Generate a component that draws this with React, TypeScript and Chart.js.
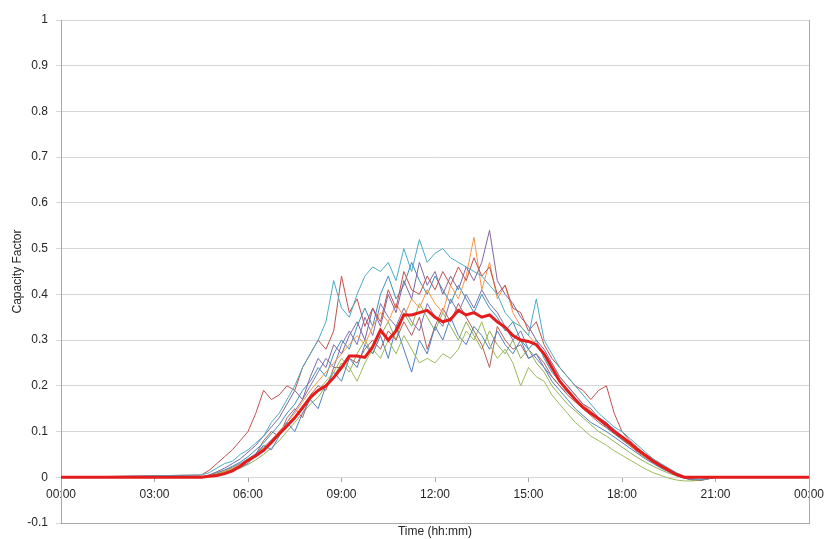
import React, { useEffect, useRef } from "react";
import { Chart, registerables } from "chart.js";

Chart.register(...registerables);

// time of day in minutes after midnight
const timeMinutes = [0, 270, 285, 300, 315, 330, 345, 360, 375, 390, 405, 420, 435, 450, 465, 480, 495, 510, 525, 540, 555, 570, 585, 600, 615, 630, 645, 660, 675, 690, 705, 720, 735, 750, 765, 780, 795, 810, 825, 840, 855, 870, 885, 900, 915, 930, 945, 960, 975, 990, 1005, 1020, 1035, 1050, 1065, 1080, 1095, 1110, 1125, 1140, 1155, 1170, 1185, 1200, 1215, 1230, 1245, 1260, 1440];

const xTickValues = [0, 180, 360, 540, 720, 900, 1080, 1260, 1440];
const xTickLabels = ["00:00", "03:00", "06:00", "09:00", "12:00", "15:00", "18:00", "21:00", "00:00"];

const yAxisTitle = "Capacity Factor";
const xAxisTitle = "Time (hh:mm)";

const averageProfile = [0, 0, 0.002, 0.004, 0.008, 0.014, 0.024, 0.037, 0.047, 0.059, 0.076, 0.095, 0.112, 0.13, 0.152, 0.175, 0.19, 0.2, 0.218, 0.24, 0.265, 0.265, 0.262, 0.285, 0.322, 0.3, 0.32, 0.355, 0.355, 0.36, 0.365, 0.35, 0.34, 0.345, 0.365, 0.355, 0.36, 0.35, 0.355, 0.34, 0.328, 0.31, 0.3, 0.297, 0.29, 0.27, 0.24, 0.21, 0.19, 0.17, 0.153, 0.14, 0.128, 0.115, 0.1, 0.088, 0.075, 0.06, 0.048, 0.035, 0.025, 0.015, 0.006, 0, 0, 0, 0, 0, 0];

const dayA = [0, 0.005, 0.01, 0.02, 0.03, 0.035, 0.05, 0.06, 0.075, 0.09, 0.12, 0.14, 0.17, 0.2, 0.24, 0.27, 0.3, 0.34, 0.43, 0.37, 0.35, 0.4, 0.44, 0.46, 0.45, 0.47, 0.43, 0.5, 0.45, 0.52, 0.47, 0.49, 0.5, 0.48, 0.47, 0.46, 0.45, 0.44, 0.42, 0.4, 0.36, 0.34, 0.33, 0.31, 0.39, 0.3, 0.27, 0.24, 0.22, 0.2, 0.18, 0.16, 0.14, 0.125, 0.11, 0.1, 0.085, 0.07, 0.055, 0.04, 0.03, 0.02, 0.01, 0.002, -0.004, -0.005, -0.003, 0, 0];
const dayB = [0, 0.005, 0.015, 0.03, 0.045, 0.06, 0.08, 0.1, 0.14, 0.19, 0.17, 0.18, 0.2, 0.19, 0.24, 0.27, 0.3, 0.28, 0.32, 0.44, 0.36, 0.39, 0.33, 0.37, 0.34, 0.41, 0.37, 0.45, 0.41, 0.4, 0.44, 0.41, 0.45, 0.42, 0.46, 0.43, 0.48, 0.44, 0.46, 0.4, 0.42, 0.37, 0.36, 0.32, 0.34, 0.29, 0.26, 0.24, 0.22, 0.2, 0.19, 0.17, 0.19, 0.2, 0.14, 0.1, 0.08, 0.065, 0.05, 0.04, 0.028, 0.018, 0.008, 0, -0.005, -0.006, -0.003, 0, 0];
const dayC = [0, 0, 0.003, 0.008, 0.012, 0.018, 0.025, 0.035, 0.045, 0.06, 0.075, 0.095, 0.11, 0.13, 0.15, 0.17, 0.19, 0.21, 0.23, 0.26, 0.24, 0.21, 0.25, 0.28, 0.26, 0.3, 0.27, 0.31, 0.28, 0.25, 0.26, 0.25, 0.27, 0.26, 0.28, 0.32, 0.3, 0.34, 0.29, 0.26, 0.28, 0.25, 0.2, 0.24, 0.22, 0.21, 0.18, 0.16, 0.14, 0.12, 0.105, 0.09, 0.08, 0.07, 0.058, 0.048, 0.038, 0.028, 0.018, 0.01, 0.004, -0.002, -0.006, -0.008, -0.008, -0.006, -0.003, 0, 0];
const dayD = [0, 0, 0.005, 0.012, 0.02, 0.03, 0.04, 0.055, 0.07, 0.09, 0.11, 0.13, 0.16, 0.19, 0.17, 0.22, 0.26, 0.24, 0.29, 0.27, 0.31, 0.34, 0.3, 0.37, 0.33, 0.4, 0.36, 0.43, 0.39, 0.47, 0.42, 0.45, 0.4, 0.44, 0.41, 0.46, 0.43, 0.47, 0.54, 0.43, 0.4, 0.38, 0.35, 0.33, 0.3, 0.28, 0.25, 0.22, 0.2, 0.18, 0.16, 0.15, 0.13, 0.12, 0.1, 0.09, 0.075, 0.06, 0.048, 0.037, 0.027, 0.017, 0.008, 0.001, -0.004, -0.006, -0.003, 0, 0];
const dayE = [0, 0, 0.002, 0.006, 0.01, 0.016, 0.022, 0.03, 0.05, 0.07, 0.06, 0.09, 0.12, 0.1, 0.14, 0.17, 0.15, 0.2, 0.23, 0.21, 0.26, 0.24, 0.29, 0.27, 0.31, 0.26, 0.33, 0.28, 0.23, 0.3, 0.27, 0.33, 0.3, 0.35, 0.31, 0.29, 0.33, 0.31, 0.28, 0.32, 0.29, 0.27, 0.3, 0.26, 0.27, 0.24, 0.21, 0.19, 0.17, 0.15, 0.135, 0.12, 0.11, 0.1, 0.088, 0.076, 0.064, 0.052, 0.04, 0.03, 0.02, 0.012, 0.004, -0.002, -0.006, -0.007, -0.004, 0, 0];
const dayF = [0, 0, 0.003, 0.008, 0.014, 0.02, 0.028, 0.038, 0.05, 0.065, 0.08, 0.1, 0.12, 0.14, 0.165, 0.19, 0.21, 0.23, 0.25, 0.27, 0.29, 0.31, 0.29, 0.33, 0.36, 0.34, 0.38, 0.35, 0.39, 0.37, 0.41, 0.38, 0.36, 0.42, 0.39, 0.44, 0.525, 0.41, 0.47, 0.39, 0.42, 0.36, 0.33, 0.31, 0.29, 0.27, 0.25, 0.22, 0.2, 0.18, 0.16, 0.145, 0.13, 0.115, 0.1, 0.085, 0.07, 0.056, 0.043, 0.032, 0.022, 0.013, 0.005, -0.001, -0.005, -0.006, -0.003, 0, 0];
const dayG = [0, 0, 0.004, 0.01, 0.016, 0.024, 0.033, 0.045, 0.06, 0.075, 0.095, 0.115, 0.14, 0.16, 0.19, 0.21, 0.24, 0.22, 0.27, 0.3, 0.28, 0.33, 0.37, 0.33, 0.4, 0.44, 0.39, 0.42, 0.47, 0.43, 0.4, 0.44, 0.41, 0.38, 0.42, 0.39, 0.36, 0.4, 0.37, 0.35, 0.32, 0.34, 0.3, 0.28, 0.3, 0.26, 0.23, 0.21, 0.19, 0.17, 0.155, 0.14, 0.125, 0.11, 0.097, 0.083, 0.07, 0.057, 0.045, 0.034, 0.024, 0.015, 0.007, 0.001, -0.003, -0.005, -0.002, 0, 0];
const dayH = [0, 0, 0.003, 0.007, 0.012, 0.018, 0.026, 0.035, 0.05, 0.08, 0.1, 0.09, 0.13, 0.15, 0.13, 0.18, 0.2, 0.19, 0.24, 0.24, 0.26, 0.25, 0.28, 0.3, 0.28, 0.32, 0.3, 0.34, 0.31, 0.35, 0.28, 0.33, 0.37, 0.34, 0.38, 0.35, 0.32, 0.29, 0.24, 0.33, 0.3, 0.28, 0.29, 0.26, 0.27, 0.25, 0.22, 0.2, 0.18, 0.165, 0.15, 0.135, 0.12, 0.108, 0.095, 0.082, 0.069, 0.055, 0.043, 0.032, 0.022, 0.013, 0.005, -0.001, -0.005, -0.006, -0.003, 0, 0];
const dayI = [0, 0, 0.002, 0.005, 0.009, 0.014, 0.02, 0.028, 0.038, 0.05, 0.064, 0.08, 0.1, 0.12, 0.14, 0.16, 0.175, 0.2, 0.22, 0.25, 0.23, 0.27, 0.3, 0.27, 0.31, 0.34, 0.3, 0.36, 0.33, 0.38, 0.35, 0.32, 0.36, 0.33, 0.3, 0.34, 0.31, 0.28, 0.32, 0.29, 0.27, 0.3, 0.26, 0.28, 0.25, 0.23, 0.2, 0.18, 0.16, 0.145, 0.13, 0.115, 0.1, 0.09, 0.078, 0.066, 0.054, 0.043, 0.033, 0.024, 0.016, 0.009, 0.003, -0.002, -0.006, -0.007, -0.004, 0, 0];
const dayJ = [0, 0, 0.004, 0.009, 0.015, 0.022, 0.03, 0.04, 0.052, 0.066, 0.082, 0.1, 0.12, 0.145, 0.17, 0.2, 0.23, 0.26, 0.24, 0.29, 0.32, 0.29, 0.35, 0.31, 0.38, 0.35, 0.33, 0.37, 0.34, 0.32, 0.38, 0.35, 0.33, 0.39, 0.36, 0.4, 0.37, 0.41, 0.38, 0.36, 0.33, 0.3, 0.32, 0.28, 0.26, 0.24, 0.22, 0.2, 0.185, 0.17, 0.155, 0.14, 0.13, 0.118, 0.105, 0.09, 0.076, 0.062, 0.049, 0.037, 0.026, 0.016, 0.008, 0.001, -0.004, -0.006, -0.003, 0, 0];

const daySeries = [dayA, dayB, dayC, dayD, dayE, dayF, dayG, dayH, dayI, dayJ];
const dayColors = ["#4BACC6", "#C0504D", "#9BBB59", "#8064A2", "#4F81BD", "#F79646", "#3E8FB8", "#B0605C", "#8DAF55", "#7A74B8"];

const FONT = "'Liberation Sans', Arial, sans-serif";
const TEXT = "#262626";

export default function App() {
  const canvasRef = useRef<HTMLCanvasElement | null>(null);

  useEffect(() => {
    const canvas = canvasRef.current;
    if (!canvas) return;

    const toPoints = (vals: number[]) => timeMinutes.map((t, i) => ({ x: t, y: vals[i] }));

    const datasets: any[] = [
      {
        label: "Average",
        data: toPoints(averageProfile),
        borderColor: "rgb(228,28,28)",
        borderWidth: 3,
        pointRadius: 0,
        tension: 0,
      },
      ...daySeries.map((s, k) => ({
        label: "Day " + (k + 1),
        data: toPoints(s),
        borderColor: dayColors[k],
        borderWidth: 1,
        pointRadius: 0,
        tension: 0,
      })),
    ];

    const frame = {
      id: "frame",
      afterDraw(chart: any) {
        const { ctx, chartArea } = chart;
        ctx.save();
        ctx.strokeStyle = "#a8a8a8";
        ctx.lineWidth = 1;
        ctx.beginPath();
        ctx.moveTo(Math.round(chartArea.right) + 0.5, chartArea.top);
        ctx.lineTo(Math.round(chartArea.right) + 0.5, chartArea.bottom);
        ctx.stroke();
        ctx.restore();
      },
    };

    const noSidePad = (s: any) => {
      s.paddingLeft = 0;
      s.paddingRight = 0;
    };

    const chart = new Chart(canvas, {
      type: "line",
      data: { datasets },
      options: {
        animation: false,
        responsive: false,
        maintainAspectRatio: false,
        layout: { padding: { top: 20, right: 16, left: 0, bottom: 0 } },
        plugins: { legend: { display: false }, tooltip: { enabled: false } },
        elements: { point: { radius: 0 } },
        scales: {
          x: {
            type: "linear",
            min: 0,
            max: 1440,
            position: "bottom",
            ticks: { display: false },
            grid: { display: false },
            border: { display: true, color: "#a8a8a8" },
            title: {
              display: true,
              text: xAxisTitle,
              color: TEXT,
              font: { family: FONT, size: 12 },
              padding: { top: 0, bottom: 0 },
            },
            afterFit: (s: any) => {
              s.height = 16;
              noSidePad(s);
            },
          },
          xTicks: {
            type: "linear",
            axis: "x",
            min: 0,
            max: 1440,
            position: { y: 0 },
            afterBuildTicks: (s: any) => {
              s.ticks = xTickValues.map((v) => ({ value: v }));
            },
            afterFit: noSidePad,
            ticks: {
              autoSkip: false,
              maxRotation: 0,
              padding: 5,
              color: TEXT,
              font: { family: FONT, size: 12 },
              callback: (v: any) => {
                const i = xTickValues.indexOf(Number(v));
                return i >= 0 ? xTickLabels[i] : "";
              },
            },
            grid: { drawOnChartArea: false, tickLength: 5, color: "#a8a8a8" },
            border: { display: false },
          },
          y: {
            type: "linear",
            min: -0.1,
            max: 1,
            ticks: {
              stepSize: 0.1,
              padding: 8,
              color: TEXT,
              font: { family: FONT, size: 12 },
              callback: (v: any) => String(Number(Number(v).toFixed(1))),
            },
            grid: { color: "#d6d6d6", tickLength: 5 },
            border: { color: "#a8a8a8" },
            title: {
              display: true,
              text: yAxisTitle,
              color: TEXT,
              font: { family: FONT, size: 12 },
              padding: { top: 10, bottom: 0 },
            },
            afterFit: (s: any) => {
              s.width = 61;
            },
          },
        },
      } as any,
      plugins: [frame],
    });

    return () => chart.destroy();
  }, []);

  return (
    <div style={{ position: "fixed", left: 0, top: 0, width: 825, height: 539, background: "#fff" }}>
      <canvas ref={canvasRef} width={825} height={539} style={{ width: 825, height: 539, display: "block" }} />
    </div>
  );
}
